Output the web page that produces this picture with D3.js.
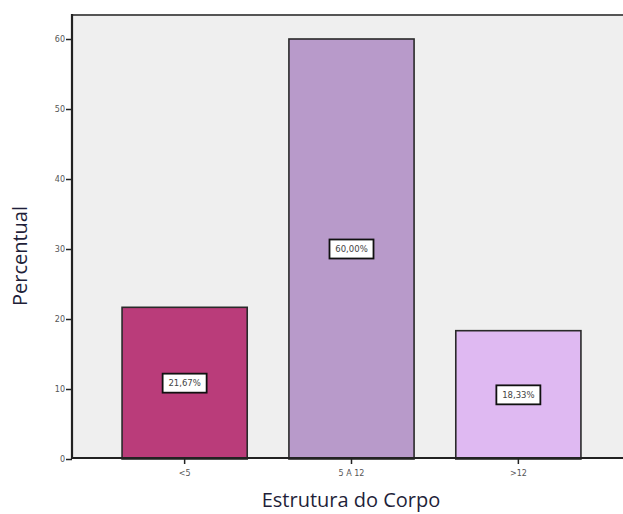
<!DOCTYPE html>
<html>
<head>
<meta charset="utf-8">
<script src="https://cdn.jsdelivr.net/npm/d3@7"></script>
<style>
  html, body { margin: 0; padding: 0; background: #ffffff; }
  svg { display: block; }
</style>
</head>
<body>
<svg id="chart" width="623" height="514"></svg>
<script>
// Distribuição percentual da estrutura do corpo
const categories = ["<5", "5 A 12", ">12"];
const percentages = [21.67, 60.00, 18.33];
const barColors = ["#BA3C7A", "#B89ACA", "#DFB9F2"];
const yTicks = [0, 10, 20, 30, 40, 50, 60];

const width = 623, height = 514;
const plot = { left: 72, top: 15, right: 631, bottom: 458 };

const svg = d3.select("#chart");

const x = d3.scaleBand()
  .domain(categories)
  .range([plot.left, plot.right])
  .paddingInner(0.25)
  .paddingOuter(0.3);

const y = d3.scaleLinear()
  .domain([0, 60])
  .range([459, 39]);

// plot background and frame
svg.append("rect")
  .attr("x", plot.left).attr("y", plot.top)
  .attr("width", plot.right - plot.left)
  .attr("height", plot.bottom - plot.top)
  .attr("fill", "#EFEFEF")
  .attr("stroke", "#555555")
  .attr("stroke-width", 2);

// bars
svg.append("g").selectAll("rect")
  .data(percentages)
  .join("rect")
  .attr("x", (d, i) => x(categories[i]))
  .attr("y", d => y(d))
  .attr("width", x.bandwidth())
  .attr("height", d => y(0) - y(d))
  .attr("fill", (d, i) => barColors[i])
  .attr("stroke", "#2a2a2a")
  .attr("stroke-width", 1.6);

// y axis
const yAxis = svg.append("g")
  .attr("transform", `translate(${plot.left},0)`)
  .call(d3.axisLeft(y).tickValues(yTicks).tickSize(6).tickPadding(1).tickSizeOuter(0));
yAxis.select(".domain").remove();
yAxis.selectAll(".tick line").attr("stroke", "#222").attr("stroke-width", 1.5);
yAxis.selectAll(".tick text")
  .attr("fill", "#555")
  .style("font-family", "'DejaVu Sans', sans-serif")
  .style("font-size", "8px");

// x axis
const xAxis = svg.append("g")
  .attr("transform", `translate(0,${plot.bottom})`)
  .call(d3.axisBottom(x).tickSize(6).tickPadding(6).tickSizeOuter(0));
xAxis.select(".domain").remove();
xAxis.selectAll(".tick line").attr("stroke", "#222").attr("stroke-width", 1.5);
xAxis.selectAll(".tick text")
  .attr("fill", "#555")
  .style("font-family", "'DejaVu Sans', sans-serif")
  .style("font-size", "8px");

// axis lines drawn over the frame
svg.append("line")
  .attr("x1", plot.left).attr("x2", plot.left)
  .attr("y1", plot.top - 1).attr("y2", plot.bottom + 1)
  .attr("stroke", "#222").attr("stroke-width", 2.2);
svg.append("line")
  .attr("x1", plot.left).attr("x2", width)
  .attr("y1", plot.bottom).attr("y2", plot.bottom)
  .attr("stroke", "#222").attr("stroke-width", 2);

// value labels in boxes
const labels = svg.append("g").selectAll("g")
  .data(percentages)
  .join("g")
  .attr("transform", (d, i) =>
    `translate(${x(categories[i]) + x.bandwidth() / 2},${(y(d) + y(0)) / 2})`);

labels.append("rect")
  .attr("x", -22).attr("y", -9.5)
  .attr("width", 44).attr("height", 19)
  .attr("fill", "#ffffff")
  .attr("stroke", "#111")
  .attr("stroke-width", 1.8);

labels.append("text")
  .attr("text-anchor", "middle")
  .attr("dy", "0.35em")
  .attr("fill", "#444")
  .style("font-family", "'DejaVu Sans', sans-serif")
  .style("font-size", "8.5px")
  .text(d => d.toFixed(2).replace(".", ",") + "%");

// axis titles
svg.append("text")
  .attr("transform", `translate(27,256) rotate(-90)`)
  .attr("text-anchor", "middle")
  .attr("fill", "#1f1f3a")
  .style("font-family", "'Open Sans', sans-serif")
  .style("font-size", "20px")
  .text("Percentual");

svg.append("text")
  .attr("x", 351).attr("y", 507)
  .attr("text-anchor", "middle")
  .attr("fill", "#1f1f3a")
  .style("font-family", "'Open Sans', sans-serif")
  .style("font-size", "20px")
  .text("Estrutura do Corpo");
</script>
</body>
</html>
